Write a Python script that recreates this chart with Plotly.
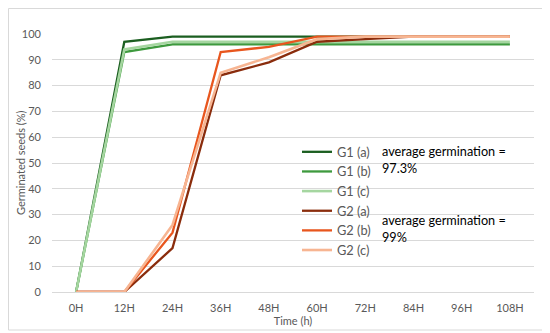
import plotly.graph_objects as go

times = ["0H", "12H", "24H", "36H", "48H", "60H", "72H", "84H", "96H", "108H"]
g1a = [0, 97, 99, 99, 99, 99, 99, 99, 99, 99]
g1b = [0, 93, 96, 96, 96, 96, 96, 96, 96, 96]
g1c = [0, 94, 97, 97, 97, 97, 97, 97, 97, 97]
g2a = [0, 0, 17, 84, 89, 97, 98, 99, 99, 99]
g2b = [0, 0, 23, 93, 95, 99, 99, 99, 99, 99]
g2c = [0, 0, 26, 85, 91, 98, 99, 99, 99, 99]
y_ticks = [0, 10, 20, 30, 40, 50, 60, 70, 80, 90, 100]

series = [
    ("G1 (a)", g1a, "#1B5E20", 2.3),
    ("G1 (b)", g1b, "#3E9A3E", 2.3),
    ("G1 (c)", g1c, "#A5D6A0", 2.6),
    ("G2 (a)", g2a, "#8A2C0C", 2.3),
    ("G2 (b)", g2b, "#E8561E", 2.3),
    ("G2 (c)", g2c, "#F7B592", 2.6),
]

# page offset (body margin of the html page)
OFF = 8
W, H = 550 - OFF, 333 - OFF
PL, PR, PT, PB = 52, 534, 34, 292  # plot area in page pixels
pw, ph = PR - PL, PB - PT

def px_x(x):
    return (x - PL) / pw

def px_y(y):
    return 1 - (y - PT) / ph

fig = go.Figure()
for name, vals, col, w in series:
    fig.add_trace(go.Scatter(x=times, y=vals, name=name, mode="lines",
                             line=dict(color=col, width=w), cliponaxis=False))

FONT = "Lato"
fig.update_layout(
    width=W, height=H,
    margin=dict(l=PL - OFF, r=W + OFF - PR, t=PT - OFF, b=H + OFF - PB),
    paper_bgcolor="white", plot_bgcolor="white",
    font=dict(family=FONT, color="#595959", size=11),
    xaxis=dict(type="category", range=[-0.5, 9.5], showgrid=False, automargin=False,
               showline=True, linecolor="#D9D9D9", ticks="",
               ticklabelstandoff=6,
               tickfont=dict(size=11, color="#595959"),
               title=dict(text="Time (h)", font=dict(size=11, color="#595959"), standoff=4)),
    yaxis=dict(range=[0, 100], tickvals=y_ticks, showgrid=True, gridcolor="#D9D9D9",
               gridwidth=1, zeroline=False, ticks="", showline=False, automargin=False,
               ticklabelstandoff=10,
               tickfont=dict(size=11, color="#595959")),
    legend=dict(x=px_x(297), y=px_y(137), xanchor="left", yanchor="top",
                bgcolor="rgba(0,0,0,0)", font=dict(family=FONT, size=12.8, color="#595959"),
                itemwidth=30, tracegroupgap=0),
    showlegend=True,
    annotations=[
        dict(x=px_x(20), y=px_y(163), xref="paper", yref="paper",
             text="Germinated seeds (%)", textangle=-90,
             showarrow=False, xanchor="center", yanchor="middle",
             font=dict(family=FONT, size=11, color="#595959")),
        dict(x=px_x(380), y=px_y(141), xref="paper", yref="paper",
             text="average germination =<br>97.3%",
             showarrow=False, align="left", xanchor="left", yanchor="top",
             font=dict(family=FONT, size=12.7, color="#000000")),
        dict(x=px_x(380), y=px_y(210), xref="paper", yref="paper",
             text="average germination =<br>99%",
             showarrow=False, align="left", xanchor="left", yanchor="top",
             font=dict(family=FONT, size=12.7, color="#000000")),
    ],
    shapes=[dict(type="rect", xref="paper", yref="paper",
                 x0=px_x(OFF + 0.5), x1=px_x(546), y0=px_y(330), y1=px_y(OFF + 0.5),
                 line=dict(color="#D9D9D9", width=1), layer="below")],
)

fig.write_html("out.html")
